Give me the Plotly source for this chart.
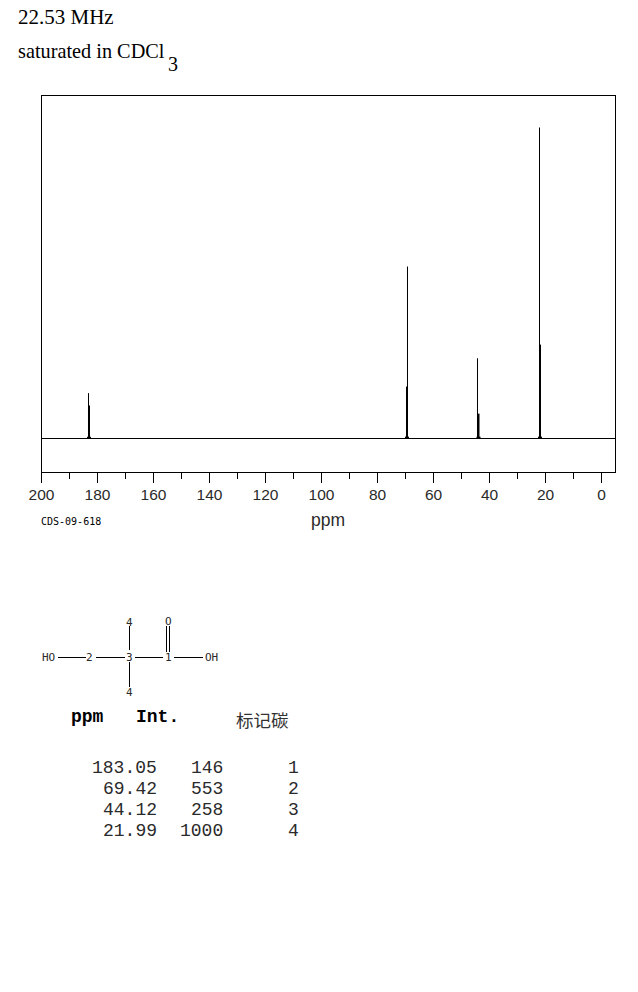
import plotly.graph_objects as go

W, H = 638, 992

# Spectrum data
ppm = [183.05, 69.42, 44.12, 21.99]
intensity = [146, 553, 258, 1000]
carbon = [1, 2, 3, 4]
# Thick lower part of every peak, and the thin upper line beside it
stem_ppm = [183.04, 69.46, 43.93, 21.96]
stem_height = [106, 167, 80, 302]
thin_ppm = [183.21, 69.29, 44.29, 22.14]
foot_height = [6, 6, 6, 6]
x_ticks = [200, 180, 160, 140, 120, 100, 80, 60, 40, 20, 0]
minor_ticks = [190, 170, 150, 130, 110, 90, 70, 50, 30, 10]
baseline_ppm = [200, -5]
baseline_int = [0, 0]

def stems(xs, ys):
    out_x, out_y = [], []
    for a, b in zip(xs, ys):
        out_x += [a, a, None]
        out_y += [0, b, None]
    return out_x, out_y

def px(x):
    return x / W

def py(y):
    return 1 - y / H

fig = go.Figure()
fig.add_trace(go.Scatter(x=baseline_ppm, y=baseline_int, mode="lines",
                         line=dict(color="black", width=1), hoverinfo="skip"))
tx, ty = stems(thin_ppm, intensity)
fig.add_trace(go.Scatter(x=tx, y=ty, mode="lines",
                         line=dict(color="black", width=1), hoverinfo="skip"))
sx, sy = stems(stem_ppm, stem_height)
fig.add_trace(go.Scatter(x=sx, y=sy, mode="lines",
                         line=dict(color="black", width=2), hoverinfo="skip"))
fx, fy = stems(stem_ppm, foot_height)
fig.add_trace(go.Scatter(x=fx, y=fy, mode="lines",
                         line=dict(color="black", width=4), hoverinfo="skip"))

annotations = []

def text(x, y, s, size, family, color="black", anchor="left"):
    annotations.append(dict(x=px(x), y=py(y), xref="paper", yref="paper", text=s,
                            showarrow=False, xanchor=anchor, yanchor="middle",
                            font=dict(size=size, family=family, color=color),
                            borderpad=0, borderwidth=0))

SERIF = "Liberation Serif"
MONO = "Liberation Mono"
DMONO = "DejaVu Sans Mono"
SANS = "Liberation Sans"
GREY = "#2a2a2a"

text(18, 17, "22.53 MHz", 21, SERIF)
text(18, 51, "saturated in CDCl", 20.3, SERIF)
text(167.5, 64, "3", 20, SERIF)
text(41, 521, "CDS-09-618", 10, DMONO)
text(328, 520, "ppm", 17.5, SANS, color=GREY, anchor="center")

# Molecule labels
for lx, ly, s in [(48, 657, "HO"), (90, 657, "2"), (129, 657, "3"), (168, 657, "1"),
                  (211, 657, "OH"), (129, 622, "4"), (129, 692, "4"), (168, 621, "O")]:
    text(lx, ly, s, 11, DMONO, color=GREY, anchor="center")

# Table
text(87, 717, "<b>ppm</b>", 18, MONO, anchor="center")
text(157, 717, "<b>Int.</b>", 18, MONO, anchor="center")
text(262, 719, "标记碳", 17.5, "Noto Sans CJK SC", color="#333333", anchor="center")
for row_y, a, b, c in zip([768, 789, 810, 831], ppm, intensity, carbon):
    text(157, row_y, f"{a:.2f}", 18, MONO, color=GREY, anchor="right")
    text(223, row_y, str(b), 18, MONO, color=GREY, anchor="right")
    text(299, row_y, str(c), 18, MONO, color=GREY, anchor="right")

# Molecule bonds
shapes = []
for x0, y0, x1, y1 in [(58, 657.5, 86, 657.5), (96, 657.5, 125, 657.5), (135, 657.5, 163, 657.5),
                       (174, 657.5, 203, 657.5), (129.5, 626, 129.5, 650), (129.5, 662, 129.5, 687),
                       (166.5, 626, 166.5, 652), (169.5, 626, 169.5, 652)]:
    shapes.append(dict(type="line", xref="paper", yref="paper",
                       x0=px(x0), y0=py(y0), x1=px(x1), y1=py(y1),
                       line=dict(color="black", width=1)))

fig.update_layout(
    width=W, height=H, margin=dict(l=0, r=0, t=0, b=0),
    paper_bgcolor="white", plot_bgcolor="white", showlegend=False,
    annotations=annotations, shapes=shapes,
    xaxis=dict(domain=[px(41.5), px(615)], range=[200, -4.82], tickmode="array", automargin=False,
               tickvals=x_ticks, ticktext=[str(t) for t in x_ticks],
               ticks="outside", ticklen=10, tickwidth=1, tickcolor="black",
               showline=True, linecolor="black", linewidth=1, mirror=True,
               showgrid=False, zeroline=False, ticklabelstandoff=-2,
               tickfont=dict(size=15.5, family=SANS, color=GREY), tickangle=0,
               minor=dict(tickmode="array", tickvals=minor_ticks,
                          ticks="outside", ticklen=6, tickwidth=1, tickcolor="black")),
    yaxis=dict(domain=[py(472), py(96)], range=[-107.7, 1101.3], showticklabels=False,
               automargin=False, ticks="", showgrid=False, zeroline=False,
               showline=True, linecolor="black", linewidth=1, mirror=True),
)

fig.write_html("out.html", config=dict(displayModeBar=False),
               post_script="document.body.style.margin='0';")
